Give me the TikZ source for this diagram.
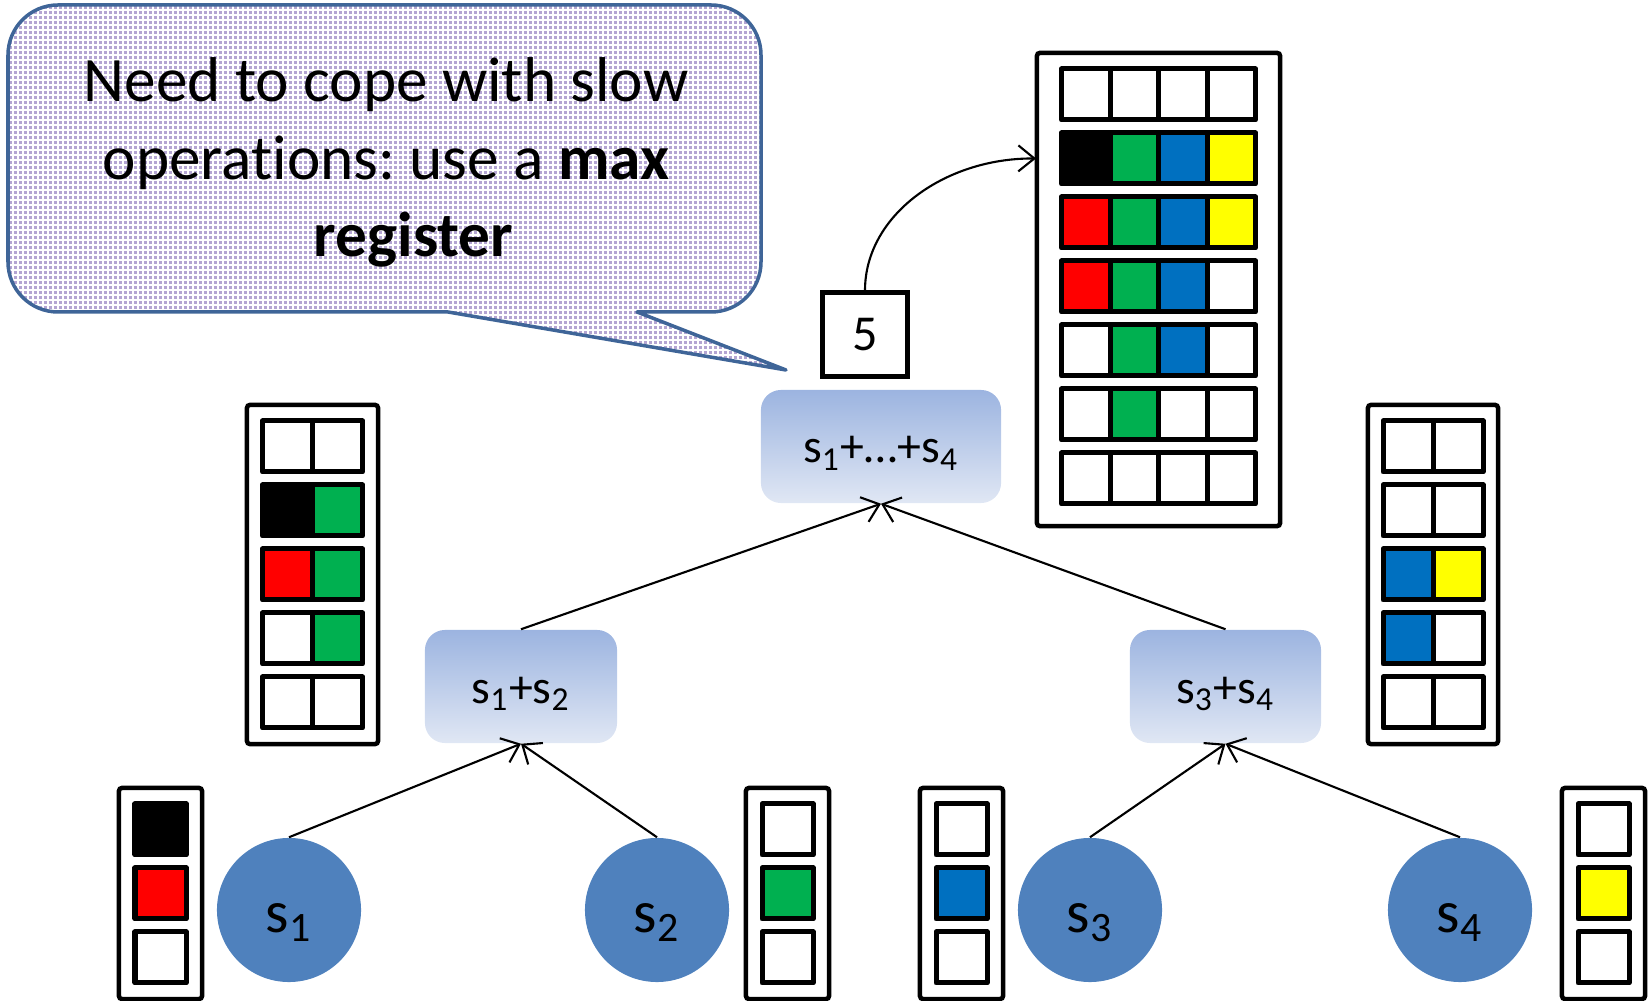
\documentclass[tikz,border=0pt]{standalone}
\usepackage{fontspec}
\setmainfont{Carlito}[Ligatures=NoCommon]
\usetikzlibrary{arrows.meta}
\frenchspacing

\definecolor{calloutline}{HTML}{3F6598}
\definecolor{calloutback}{HTML}{B4A5D2}
\definecolor{sitefill}{HTML}{4F81BD}
\definecolor{boxtop}{HTML}{9CB4E0}
\definecolor{boxbot}{HTML}{E0E7F4}
\definecolor{cgreen}{HTML}{00B050}
\definecolor{cblue}{HTML}{0070C0}
\definecolor{cyellow}{HTML}{FFFF00}
\definecolor{cred}{HTML}{FF0000}

\tikzset{
  regframe/.style={draw=black, line width=0.045cm, fill=white, rounded corners=0.03cm, inner sep=0pt},
  regcell/.style={draw=black, line width=0.05cm, line join=round},
  site/.style={circle, fill=sitefill, minimum size=1.44cm, inner sep=0pt,
    text height=0.5cm, text depth=0.06cm, font=\fontsize{17}{20}\selectfont},
  sumbox/.style={rounded corners=0.2cm, top color=boxtop, bottom color=boxbot, inner sep=0pt,
    minimum height=1.13cm, text height=0.4cm, text depth=0.07cm, font=\fontsize{13.6}{16}\selectfont},
  valbox/.style={draw=black, line width=0.05cm, fill=white, minimum width=0.84cm, minimum height=0.83cm,
    inner sep=0pt, font=\fontsize{14.3}{17}\selectfont},
  link/.style={line width=0.6pt, -{Straight Barb[length=0.16cm,width=0.26cm]}},
}

% one row of register cells: left x, top y, cell width, list of fill colours
\newcommand\regrow[4]{%
  \foreach \c [count=\i from 0] in {#4} {
    \path[regcell, fill=\c] ({#1+\i*#3},#2) rectangle ++(#3,51);
  }%
}

\begin{document}
\begin{tikzpicture}[x=0.01cm, y=-0.01cm]
\useasboundingbox (0,0) rectangle (1648,1001);

% speech bubble with a fine woven texture
\def\bubble{(58,5) -- (711,5) arc[start angle=-90,end angle=0,radius=50]
  -- (761,262) arc[start angle=0,end angle=90,radius=50]
  -- (637,312) -- (786,370) -- (448,312)
  -- (58,312) arc[start angle=90,end angle=180,radius=50]
  -- (8,55) arc[start angle=180,end angle=270,radius=50] -- cycle}
\fill[calloutback] \bubble;
\begin{scope}
  \clip \bubble;
  \foreach \x in {8,13,...,790} {\draw[white, line width=0.012cm] (\x,0) -- (\x,380);}
  \foreach \y in {5,10,...,380} {\draw[white, line width=0.012cm] (0,\y) -- (790,\y);}
\end{scope}
\draw[calloutline, line width=0.035cm, line join=round] \bubble;
\node[align=center, font=\fontsize{18}{22}\selectfont] (note) at (386,162.5)
  {Need to cope with slow\\operations: use a \textbf{max}\\\hspace*{0.55cm}\textbf{register}};

% register frames
\node[regframe, minimum width=2.43cm, minimum height=4.73cm] (bigreg) at (1158.5,289.5) {};
\node[regframe, minimum width=1.31cm, minimum height=3.39cm] (leftreg) at (312.5,574.5) {};
\node[regframe, minimum width=1.30cm, minimum height=3.39cm] (rightreg) at (1433,574.5) {};
\node[regframe, minimum width=0.83cm, minimum height=2.11cm] (reg1) at (160.5,893.5) {};
\node[regframe, minimum width=0.83cm, minimum height=2.11cm] (reg2) at (787.5,893.5) {};
\node[regframe, minimum width=0.83cm, minimum height=2.11cm] (reg3) at (961.5,893.5) {};
\node[regframe, minimum width=0.83cm, minimum height=2.11cm] (reg4) at (1603.5,893.5) {};

% four-cell rows
\regrow{1061.5}{69}{48.5}{white,white,white,white}
\regrow{1061.5}{133}{48.5}{black,cgreen,cblue,cyellow}
\regrow{1061.5}{197}{48.5}{cred,cgreen,cblue,cyellow}
\regrow{1061.5}{261}{48.5}{cred,cgreen,cblue,white}
\regrow{1061.5}{325}{48.5}{white,cgreen,cblue,white}
\regrow{1061.5}{389}{48.5}{white,cgreen,white,white}
\regrow{1061.5}{453}{48.5}{white,white,white,white}

% two-cell rows
\regrow{262.5}{421}{50}{white,white}
\regrow{262.5}{485}{50}{black,cgreen}
\regrow{262.5}{549}{50}{cred,cgreen}
\regrow{262.5}{613}{50}{white,cgreen}
\regrow{262.5}{677}{50}{white,white}

\regrow{1383}{421}{50}{white,white}
\regrow{1383}{485}{50}{white,white}
\regrow{1383}{549}{50}{cblue,cyellow}
\regrow{1383}{613}{50}{cblue,white}
\regrow{1383}{677}{50}{white,white}

% one-cell rows
\foreach \x/\a/\b/\cc in {135/black/cred/white, 762/white/cgreen/white,
                         936/white/cblue/white, 1578/white/cyellow/white} {
  \regrow{\x}{804}{51}{\a}
  \regrow{\x}{868}{51}{\b}
  \regrow{\x}{932}{51}{\cc}
}

% processes and aggregation nodes
\node[site] (s1) at (289,910) {s\textsubscript{1}};
\node[site] (s2) at (657,910) {s\textsubscript{2}};
\node[site] (s3) at (1090,910) {s\textsubscript{3}};
\node[site] (s4) at (1460,910) {s\textsubscript{4}};

\node[sumbox, minimum width=1.92cm] (s12) at (521,686.5) {s\textsubscript{1}+s\textsubscript{2}};
\node[sumbox, minimum width=1.91cm] (s34) at (1225.5,686.5) {s\textsubscript{3}+s\textsubscript{4}};
\node[sumbox, minimum width=2.40cm] (sall) at (881,446.5) {s\textsubscript{1}+…+s\textsubscript{4}};

\node[valbox] (val) at (865,334.5) {5};
\coordinate (row2in) at (1036,158.5);

% connectors
\draw[link] (s1.north) -- (s12.south);
\draw[link] (s2.north) -- (s12.south);
\draw[link] (s3.north) -- (s34.south);
\draw[link] (s4.north) -- (s34.south);
\draw[link] (s12.north) -- (sall.south);
\draw[link] (s34.north) -- (sall.south);
\draw[link] (val.north) .. controls (865,215) and (945,158) .. (row2in);
\end{tikzpicture}
\end{document}
